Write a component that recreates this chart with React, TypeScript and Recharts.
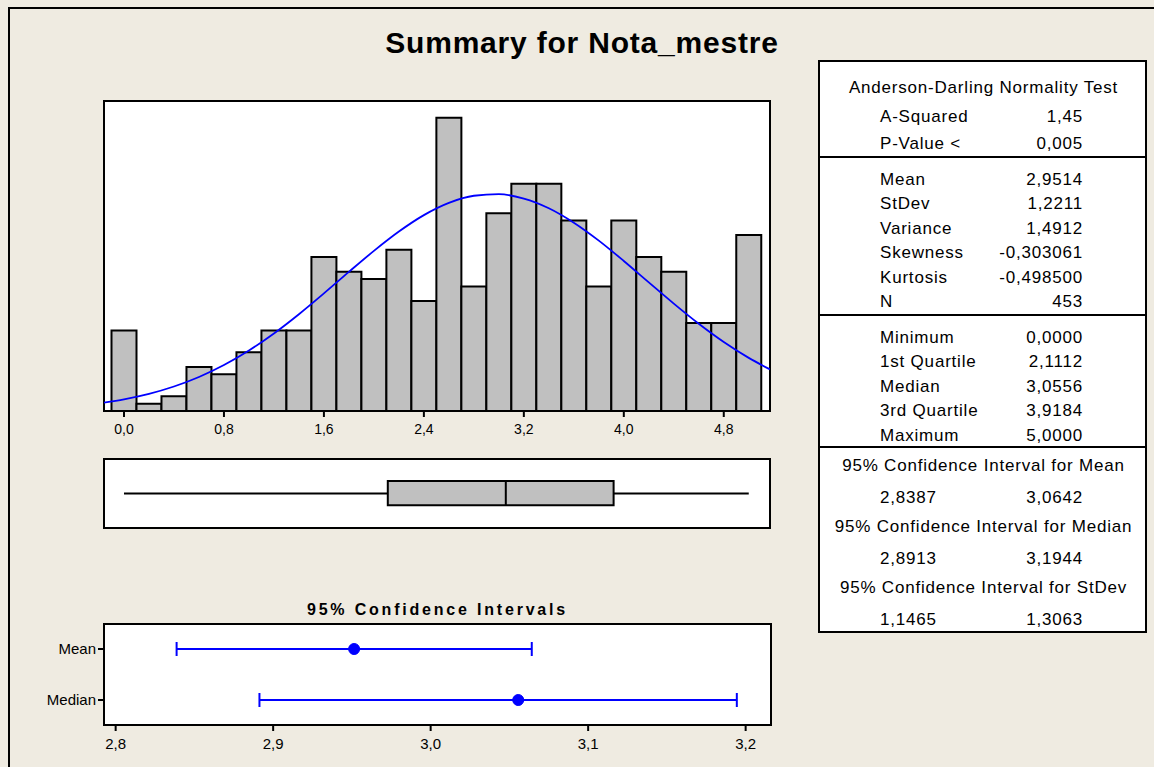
import React from 'react';
import {
  ComposedChart,
  Bar,
  Line,
  XAxis,
  YAxis,
  CartesianGrid,
  ReferenceArea,
  ReferenceLine,
  ErrorBar,
} from 'recharts';

const FONT = '"Liberation Sans", Arial, sans-serif';
const BG = '#EFEBE1';
const GREY = '#C0C0C0';
const BLUE = '#0000FF';

// histogram: bin centres (bins are 0,2 wide) and counts
const binCenters = [0, 0.2, 0.4, 0.6, 0.8, 1.0, 1.2, 1.4, 1.6, 1.8, 2.0, 2.2, 2.4, 2.6, 2.8, 3.0, 3.2, 3.4, 3.6, 3.8, 4.0, 4.2, 4.4, 4.6, 4.8, 5.0];
const binCounts = [11, 1, 2, 6, 5, 8, 11, 11, 21, 19, 18, 22, 15, 40, 17, 27, 31, 31, 26, 17, 26, 21, 19, 12, 12, 24];

// fitted normal curve
const curveX = [-0.16, 0, 0.2, 0.4, 0.6, 0.8, 1.0, 1.2, 1.4, 1.6, 1.8, 2.0, 2.2, 2.4, 2.6, 2.8, 3.0, 3.2, 3.4, 3.6, 3.8, 4.0, 4.2, 4.4, 4.6, 4.8, 5.0, 5.17];
const curveY = [1.15, 1.6, 2.34, 3.34, 4.64, 6.27, 8.26, 10.58, 13.21, 16.05, 18.98, 21.85, 24.49, 26.73, 28.4, 29.37, 29.58, 28.99, 27.67, 25.7, 23.25, 20.47, 17.55, 14.65, 11.9, 9.41, 7.25, 5.68];

const histTicks = [0, 0.8, 1.6, 2.4, 3.2, 4.0, 4.8];

// min, Q1, median, Q3, max
const boxValues = [0, 2.1112, 3.0556, 3.9184, 5.0];

// confidence intervals plot
const ciNames = ['Mean', 'Median'];
const ciEstimates = [2.9514, 3.0556];
const ciLower = [2.8387, 2.8913];
const ciUpper = [3.0642, 3.1944];
const ciTicks = [2.8, 2.9, 3.0, 3.1, 3.2];

// summary table
const adTitle = 'Anderson-Darling Normality Test';
const adLabels = ['A-Squared', 'P-Value <'];
const adValues = ['1,45', '0,005'];
const momentLabels = ['Mean', 'StDev', 'Variance', 'Skewness', 'Kurtosis', 'N'];
const momentValues = ['2,9514', '1,2211', '1,4912', '-0,303061', '-0,498500', '453'];
const quantileLabels = ['Minimum', '1st Quartile', 'Median', '3rd Quartile', 'Maximum'];
const ciTitles = [
  '95% Confidence Interval for Mean',
  '95% Confidence Interval for Median',
  '95% Confidence Interval for StDev',
];
const ciTableLow = ['2,8387', '2,8913', '1,1465'];
const ciTableHigh = ['3,0642', '3,1944', '1,3063'];

const HIST_DOMAIN: [number, number] = [-0.16, 5.17];
const HIST_YMAX = 42.3;
const CI_DOMAIN: [number, number] = [2.7926, 3.2161];

const comma = (v: number, d: number) => v.toFixed(d).replace('.', ',');

const binData = binCenters.map((x, i) => ({ x, count: binCounts[i] }));
const curveData = curveX.map((x, i) => ({ x, y: curveY[i] }));
const ciData = ciNames.map((name, i) => ({
  name,
  est: ciEstimates[i],
  err: [ciEstimates[i] - ciLower[i], ciUpper[i] - ciEstimates[i]],
}));

const axisStroke = { stroke: '#000', strokeWidth: 2 };

function Histogram() {
  return (
    <ComposedChart
      width={700}
      height={360}
      data={binData}
      margin={{ top: 10, right: 14, bottom: 10, left: 20 }}
      barCategoryGap={0}
      barGap={0}
    >
      <CartesianGrid xAxisId="curve" fill="#fff" horizontal={false} vertical={false} />
      <XAxis xAxisId="bins" dataKey="x" type="number" domain={HIST_DOMAIN} allowDataOverflow hide height={0} />
      <XAxis
        xAxisId="curve"
        dataKey="x"
        type="number"
        domain={HIST_DOMAIN}
        allowDataOverflow
        ticks={histTicks}
        interval={0}
        tickFormatter={(v) => comma(v, 1)}
        height={30}
        tickSize={6}
        tickMargin={7}
        axisLine={axisStroke}
        tickLine={axisStroke}
        tick={{ fill: '#000', fontSize: 14, fontFamily: FONT }}
      />
      <YAxis type="number" domain={[0, HIST_YMAX]} allowDataOverflow hide />
      <Bar
        xAxisId="bins"
        dataKey="count"
        fill={GREY}
        stroke="#000"
        strokeWidth={2}
        isAnimationActive={false}
      />
      <Line
        xAxisId="curve"
        data={curveData}
        dataKey="y"
        type="monotone"
        stroke={BLUE}
        strokeWidth={1.8}
        dot={false}
        isAnimationActive={false}
      />
      <ReferenceArea
        xAxisId="curve"
        x1={HIST_DOMAIN[0]}
        x2={HIST_DOMAIN[1]}
        y1={0}
        y2={HIST_YMAX}
        fill="none"
        stroke="#000"
        strokeWidth={2}
      />
    </ComposedChart>
  );
}

function BoxPlot() {
  const [min, q1, med, q3, max] = boxValues;
  const line = { stroke: '#000', strokeWidth: 2 };
  return (
    <ComposedChart
      width={700}
      height={89}
      data={[{ x: med }]}
      margin={{ top: 10, right: 14, bottom: 10, left: 20 }}
    >
      <CartesianGrid fill="#fff" horizontal={false} vertical={false} />
      <XAxis dataKey="x" type="number" domain={HIST_DOMAIN} allowDataOverflow hide />
      <YAxis type="number" domain={[0, 1]} allowDataOverflow hide />
      <ReferenceLine segment={[{ x: min, y: 0.5 }, { x: q1, y: 0.5 }]} {...line} />
      <ReferenceLine segment={[{ x: q3, y: 0.5 }, { x: max, y: 0.5 }]} {...line} />
      <ReferenceArea x1={q1} x2={q3} y1={0.33} y2={0.68} fill={GREY} fillOpacity={1} stroke="#000" strokeWidth={2} />
      <ReferenceLine segment={[{ x: med, y: 0.33 }, { x: med, y: 0.68 }]} {...line} />
      <ReferenceArea x1={HIST_DOMAIN[0]} x2={HIST_DOMAIN[1]} y1={0} y2={1} fill="none" stroke="#000" strokeWidth={2} />
    </ComposedChart>
  );
}

function CIPlot() {
  return (
    <ComposedChart
      layout="vertical"
      width={790}
      height={170}
      data={ciData}
      margin={{ top: 34, right: 19, bottom: 0, left: 0 }}
    >
      <CartesianGrid fill="#fff" horizontal={false} vertical={false} />
      <XAxis
        type="number"
        domain={CI_DOMAIN}
        allowDataOverflow
        ticks={ciTicks}
        interval={0}
        tickFormatter={(v) => comma(v, 1)}
        height={35}
        tickSize={6}
        tickMargin={7}
        axisLine={axisStroke}
        tickLine={axisStroke}
        tick={{ fill: '#000', fontSize: 15, fontFamily: FONT }}
      />
      <YAxis
        type="category"
        dataKey="name"
        width={104}
        padding={{ top: 25, bottom: 25 }}
        tickSize={6}
        tickMargin={2}
        axisLine={axisStroke}
        tickLine={axisStroke}
        tick={{ fill: '#000', fontSize: 15, fontFamily: FONT }}
      />
      {/* plain 0..1 axis, only used to draw the plot frame */}
      <YAxis yAxisId="frame" type="number" domain={[0, 1]} allowDataOverflow hide width={0} />
      <Line
        dataKey="est"
        stroke="none"
        dot={{ r: 5.5, fill: BLUE, stroke: BLUE, strokeWidth: 1 }}
        isAnimationActive={false}
      >
        <ErrorBar dataKey="err" direction="x" width={7} stroke={BLUE} strokeWidth={2} />
      </Line>
      <ReferenceArea
        yAxisId="frame"
        x1={CI_DOMAIN[0]}
        x2={CI_DOMAIN[1]}
        y1={0}
        y2={1}
        fill="none"
        stroke="#000"
        strokeWidth={2}
      />
    </ComposedChart>
  );
}

const tableText: React.CSSProperties = {
  position: 'absolute',
  fontSize: 17,
  letterSpacing: 0.8,
  lineHeight: '20px',
  height: 20,
  whiteSpace: 'nowrap',
  color: '#000',
};

function Row({ label, value, y }: { label: string; value: string; y: number }) {
  return (
    <>
      <div style={{ ...tableText, left: 880, top: y - 10 }}>{label}</div>
      <div style={{ ...tableText, left: 980, width: 103, textAlign: 'right', top: y - 10 }}>{value}</div>
    </>
  );
}

function Centered({ text, y }: { text: string; y: number }) {
  return (
    <div style={{ ...tableText, left: 820, width: 327, textAlign: 'center', top: y - 10 }}>{text}</div>
  );
}

function SummaryTable() {
  const step = 24.4;
  const divider = (y: number) => (
    <div key={y} style={{ position: 'absolute', left: 818, width: 329, top: y - 1, height: 2, background: '#000' }} />
  );
  return (
    <>
      <div
        style={{
          position: 'absolute',
          left: 818,
          top: 60,
          width: 325,
          height: 569,
          border: '2px solid #000',
          background: '#fff',
        }}
      />
      <Centered text={adTitle} y={88} />
      {adLabels.map((l, i) => (
        <Row key={l} label={l} value={adValues[i]} y={117 + i * 27} />
      ))}
      {divider(157)}
      {momentLabels.map((l, i) => (
        <Row key={l} label={l} value={momentValues[i]} y={180 + i * step} />
      ))}
      {divider(315)}
      {quantileLabels.map((l, i) => (
        <Row key={l} label={l} value={comma(boxValues[i], 4)} y={338 + i * step} />
      ))}
      {divider(447)}
      {ciTitles.map((t, i) => (
        <React.Fragment key={t}>
          <Centered text={t} y={466 + i * 61} />
          <Row label={ciTableLow[i]} value={ciTableHigh[i]} y={498 + i * 61} />
        </React.Fragment>
      ))}
    </>
  );
}

export default function App() {
  return (
    <div
      style={{
        position: 'absolute',
        left: 0,
        top: 0,
        width: 1154,
        height: 767,
        background: BG,
        fontFamily: FONT,
        overflow: 'hidden',
      }}
    >
      <div style={{ position: 'absolute', left: 8, top: 7, width: 1146, height: 2, background: '#000' }} />
      <div style={{ position: 'absolute', left: 8, top: 7, width: 2, height: 760, background: '#000' }} />

      <div
        style={{
          position: 'absolute',
          left: 282,
          width: 600,
          top: 28,
          textAlign: 'center',
          fontSize: 30,
          lineHeight: '30px',
          fontWeight: 'bold',
          letterSpacing: 0.8,
          color: '#000',
        }}
      >
        Summary for Nota_mestre
      </div>

      <div style={{ position: 'absolute', left: 84, top: 91 }}>
        <Histogram />
      </div>
      <div style={{ position: 'absolute', left: 84, top: 449 }}>
        <BoxPlot />
      </div>

      <div
        style={{
          position: 'absolute',
          left: 104,
          width: 667,
          top: 602,
          textAlign: 'center',
          fontSize: 16,
          lineHeight: '16px',
          fontWeight: 'bold',
          letterSpacing: 2.8,
          color: '#000',
        }}
      >
        95% Confidence Intervals
      </div>
      <div style={{ position: 'absolute', left: 0, top: 590 }}>
        <CIPlot />
      </div>

      <SummaryTable />
    </div>
  );
}
